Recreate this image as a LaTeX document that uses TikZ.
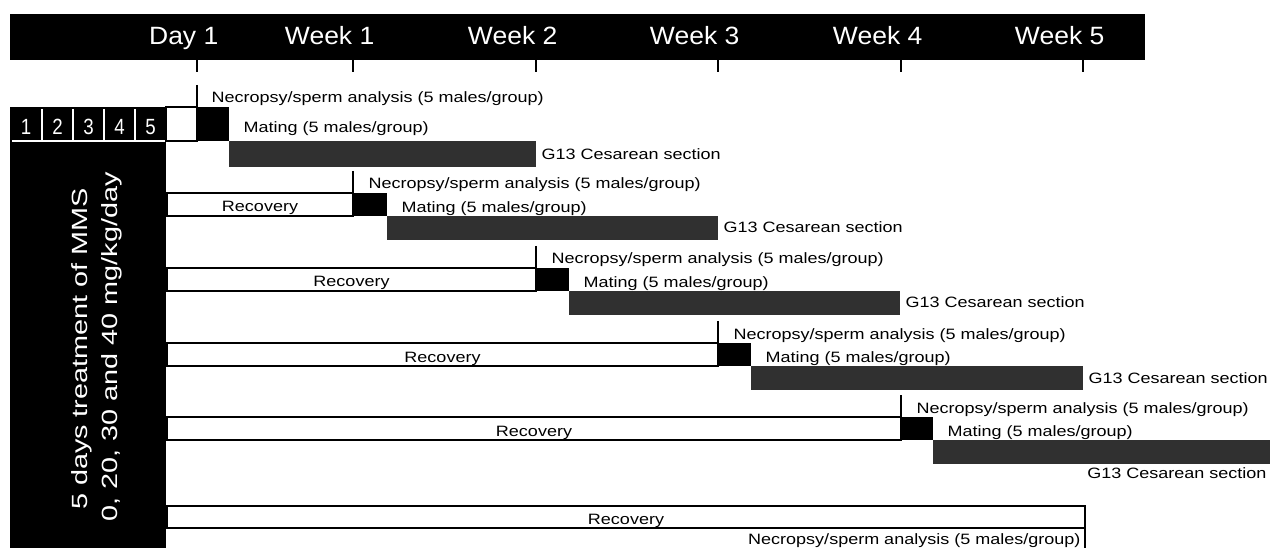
\documentclass[tikz,border=0pt]{standalone}
\usepackage{fontspec}
\newfontfamily\lblfont[FakeStretch=1.2]{Liberation Sans}
\newfontfamily\hdrfont[FakeStretch=1.06]{Liberation Sans}
\newfontfamily\vtfont[FakeStretch=1.31]{Liberation Sans}
\newfontfamily\numfont[FakeStretch=0.85]{Liberation Sans}
\definecolor{bargray}{gray}{0.19}
\begin{document}
\begin{tikzpicture}[x=1pt,y=-1pt,line width=1.3pt,
  lbl/.style={font=\lblfont\fontsize{15}{18}\selectfont,inner sep=0pt},
  hdr/.style={font=\hdrfont\fontsize{25}{30}\selectfont,text=white,inner sep=0pt,anchor=base east},
  vt/.style={font=\vtfont\fontsize{22}{26}\selectfont,text=white,inner sep=0pt,anchor=base,rotate=90},
  num/.style={font=\numfont\fontsize{22}{24}\selectfont,text=white,inner sep=0pt,anchor=base},
  recbox/.style={draw=black,fill=white},
  tickline/.style={line width=1.4pt}]
\useasboundingbox (0,0) rectangle (1270,548);
% header
\fill (10,14) rectangle (1145,60);
\foreach \x/\t/\n in {197/Day 1/d1,353/Week 1/w1,536/Week 2/w2,718/Week 3/w3,901/Week 4/w4,1083/Week 5/w5}{
  \draw[tickline] (\x,60) -- (\x,72);
  \node[hdr] (\n) at (\x+22,45) {\t};
}
% left treatment box
\fill (10,107) rectangle (166,548);
\draw[white] (12,141) -- (165,141);
\foreach \x in {42,73,104,135}{\draw[white] (\x,109) -- (\x,141);}
\foreach \x/\d in {26/1,57.5/2,88.5/3,119.5/4,150.5/5}{
  \node[num] (day\d) at (\x,135) {\d};
}
\node[vt] (vt1) at (87,349) {5 days treatment of MMS};
\node[vt] (vt2) at (117,347) {0, 20, 30 and 40 mg/kg/day};
% cohort 1
\draw[recbox] (166,107) rectangle (197,141);
\fill (197,107) rectangle (229,141);
\fill[bargray] (229,141) rectangle (536,167);
\draw[tickline] (197,85) -- (197,107);
\node[lbl,anchor=base west] (nec1) at (211,103) {Necropsy/sperm analysis (5 males/group)};
\node[lbl,anchor=base west] (mat1) at (243,133) {Mating (5 males/group)};
\node[lbl,anchor=base west] (g1) at (541,160) {G13 Cesarean section};
% cohorts 2-5
\foreach \T/\M/\E/\R/\k in {353/387/718/193/2,536/569/900/268/3,718/751/1083/343/4,901/933/1275/417/5}{
  \draw[recbox] (167,\R) rectangle (\T,\R+23);
  \fill (\T,\R) rectangle (\M,\R+23);
  \fill[bargray] (\M,\R+23) rectangle (\E,\R+47);
  \draw[tickline] (\T,\R-22) -- (\T,\R);
  \node[lbl,anchor=base west] (nec\k) at (\T+15,\R-4) {Necropsy/sperm analysis (5 males/group)};
  \node[lbl,anchor=base west] (mat\k) at (\M+14,\R+19.5) {Mating (5 males/group)};
  \node[lbl,anchor=base] (rec\k) at ({(167+\T)/2},\R+19) {Recovery};
}
\node[lbl,anchor=base west] (g2) at (723,233) {G13 Cesarean section};
\node[lbl,anchor=base west] (g3) at (905,308) {G13 Cesarean section};
\node[lbl,anchor=base west] (g4) at (1088,383) {G13 Cesarean section};
\node[lbl,anchor=base east] (g5) at (1267,478) {G13 Cesarean section};
% cohort 6
\draw[recbox] (167,506) rectangle (1085,528);
\draw (1085,528) -- (1085,549);
\node[lbl,anchor=base] (rec6) at (626,524) {Recovery};
\node[lbl,anchor=base east] (nec6) at (1081,544) {Necropsy/sperm analysis (5 males/group)};
\end{tikzpicture}
\end{document}
